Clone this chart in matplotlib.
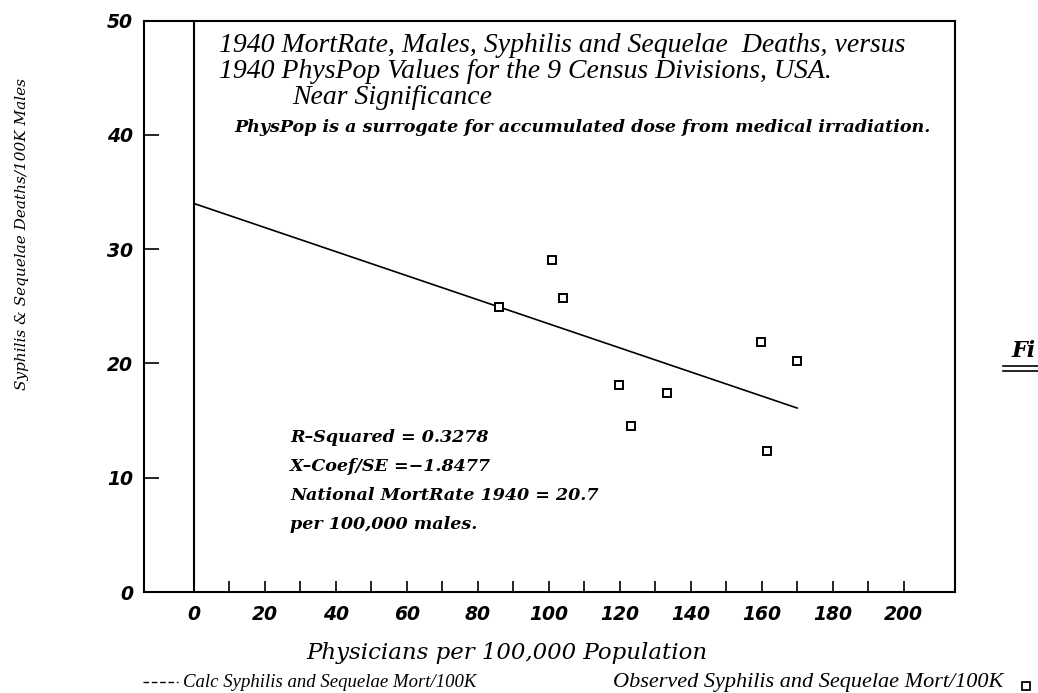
import matplotlib
matplotlib.use("Agg")
import matplotlib.pyplot as plt
from matplotlib.lines import Line2D

# ---- data ----
phys_pop = [86.1, 100.9, 104.1, 119.9, 123.2, 133.4, 159.9, 161.4, 169.9]
mort_rate = [24.9, 29.1, 25.7, 18.1, 14.5, 17.4, 21.9, 12.3, 20.2]
fit_x = [0, 170]
fit_y = [34.0, 16.1]
x_ticks = [0, 20, 40, 60, 80, 100, 120, 140, 160, 180, 200]
x_minor = [10, 30, 50, 70, 90, 110, 130, 150, 170, 190]
y_ticks = [0, 10, 20, 30, 40, 50]

title_lines = ["1940 MortRate, Males, Syphilis and Sequelae  Deaths, versus",
               "1940 PhysPop Values for the 9 Census Divisions, USA."]
subtitle = "Near Significance"
note = "PhysPop is a surrogate for accumulated dose from medical irradiation."
stats = ["R\u2013Squared = 0.3278", "X\u2013Coef/SE =\u22121.8477",
         "National MortRate 1940 = 20.7", "per 100,000 males."]

W, H = 1038, 693
fig = plt.figure(figsize=(W / 100, H / 100), dpi=100)
ax = fig.add_axes([144 / W, 1 - 592 / H, (955 - 144) / W, (592 - 20.7) / H])
ax.set_xlim(-14.1, 214.5)
ax.set_ylim(0, 50)

for s in ax.spines.values():
    s.set_linewidth(1.5)
    s.set_color("black")

ax.axvline(0, color="black", lw=1.5)

ax.plot(fit_x, fit_y, color="black", lw=1.2)
ax.plot(phys_pop, mort_rate, ls="none", marker="s", ms=6.4, mfc="white",
        mec="black", mew=1.4)

tickfont = dict(family="DejaVu Sans", style="italic", weight="bold", size=13.5)
ax.set_xticks(x_ticks)
ax.set_xticks(x_minor, minor=True)
ax.set_xticklabels([str(v) for v in x_ticks], fontdict=tickfont)
ax.set_yticks(y_ticks)
ax.set_yticklabels([str(v) for v in y_ticks], fontdict=tickfont)
ax.tick_params(axis="x", which="both", direction="in", length=7.7, width=1.2,
               pad=9, top=False)
ax.tick_params(axis="y", which="both", direction="in", length=11, width=1.2,
               pad=8, right=False)

serif_it = dict(family="Liberation Serif", style="italic")
fig.text(219 / W, 1 - 45 / H, title_lines[0], fontsize=20, va="center",
         ha="left", **serif_it)
fig.text(219 / W, 1 - 72 / H, title_lines[1], fontsize=20, va="center",
         ha="left", **serif_it)
fig.text(292 / W, 1 - 98 / H, subtitle, fontsize=20, va="center",
         ha="left", **serif_it)
fig.text(234 / W, 1 - 127 / H, note, fontsize=12.6, va="center", ha="left",
         family="DejaVu Serif", style="italic", weight="bold")

for i, t in enumerate(stats):
    fig.text(290 / W, 1 - (437 + 29.3 * i) / H, t, fontsize=12.6,
             va="center", ha="left", family="DejaVu Serif", style="italic",
             weight="bold")

fig.text(507 / W, 1 - 653 / H, "Physicians per 100,000 Population",
         fontsize=16.5, va="center", ha="center", family="DejaVu Serif",
         style="italic")
fig.text(22 / W, 1 - 234 / H, "Syphilis & Sequelae Deaths/100K Males",
         fontsize=11, va="center", ha="center", rotation=90,
         family="DejaVu Serif", style="italic")

# legend-like footer
fig.add_artist(Line2D([143 / W, 178 / W], [1 - 682 / H, 1 - 682 / H],
                      color="black", lw=1.0, ls=(0, (4, 2))))
fig.text(183 / W, 1 - 687 / H, "Calc Syphilis and Sequelae Mort/100K",
         fontsize=13.5, va="baseline", ha="left", **serif_it)
fig.text(1003 / W, 1 - 687 / H, "Observed Syphilis and Sequelae Mort/100K",
         fontsize=16, va="baseline", ha="right", **serif_it)
fig.add_artist(Line2D([1026 / W], [1 - 686 / H], ls="none", marker="s",
                      ms=6, mfc="white", mec="black", mew=1.3))

# cropped neighbouring figure caption
fig.text(1012 / W, 1 - 357 / H, "Fi", fontsize=16, va="baseline", ha="left",
         family="DejaVu Serif", style="italic", weight="bold")
for yy in (366, 371):
    fig.add_artist(Line2D([1003 / W, 1.0], [1 - yy / H, 1 - yy / H],
                          color="black", lw=1.2))

fig.savefig("out.png", dpi=100)
